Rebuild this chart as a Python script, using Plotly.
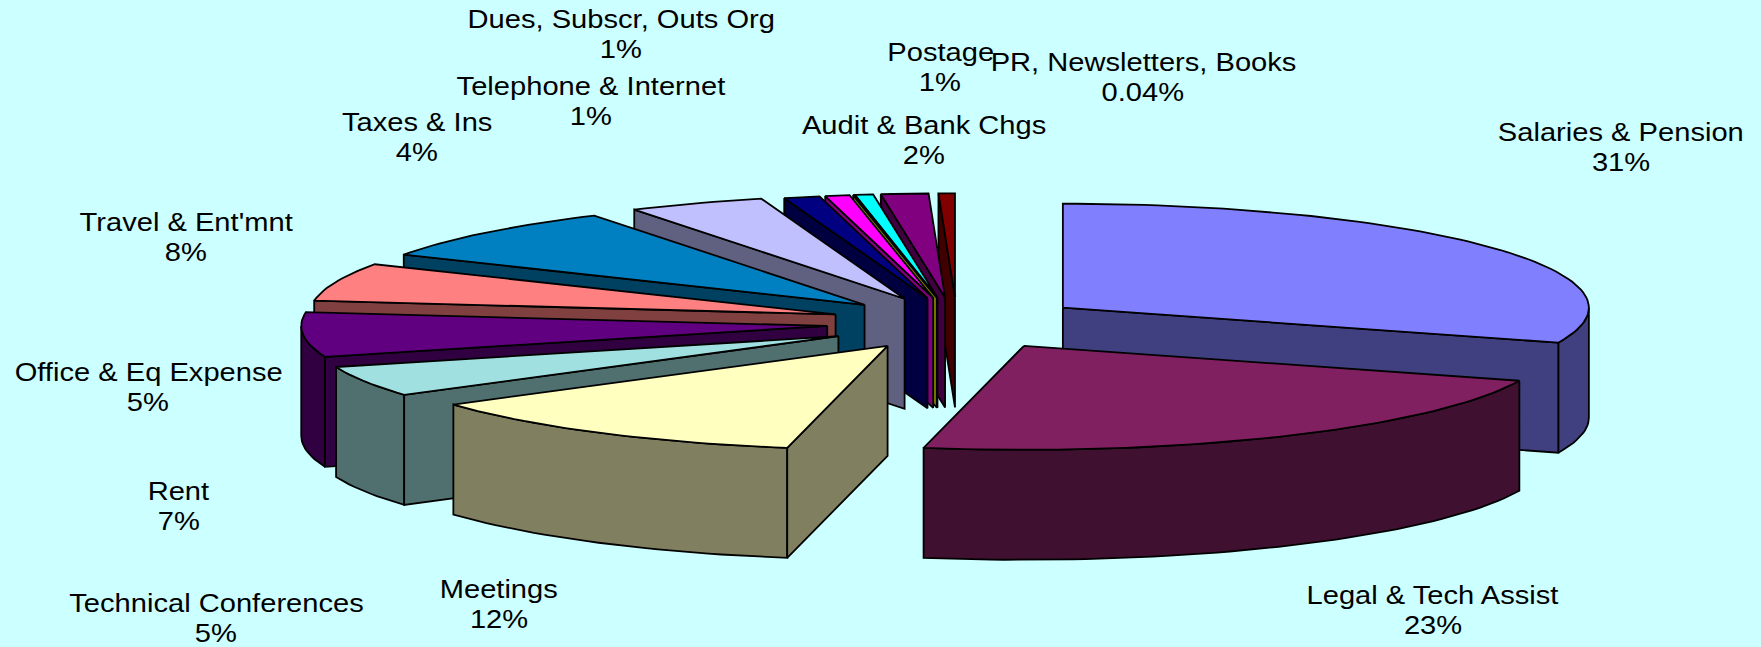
import math
import plotly.graph_objects as go

# ---- data ----
categories = ["Salaries & Pension", "Legal & Tech Assist", "Meetings", "Technical Conferences",
              "Rent", "Office & Eq Expense", "Travel & Ent'mnt", "Taxes & Ins",
              "Telephone & Internet", "Dues, Subscr, Outs Org", "PR, Newsletters, Books",
              "Postage", "Audit & Bank Chgs", "Other"]
values = [30.45, 22.6, 12.4, 4.75, 6.9, 5.9, 8.4, 4.2, 1.1, 0.75, 0.04, 0.55, 1.45, 0.5]
pct_labels = ["31%", "23%", "12%", "5%", "7%", "5%", "8%", "4%", "1%", "1%", "0.04%", "1%", "2%", ""]

# ---- style ----
top_colors = ["#8080FF", "#802060", "#FFFFC0", "#A0E0E0", "#600080", "#FF8080", "#0080C0",
              "#C0C0FF", "#000080", "#FF00FF", "#FFFF00", "#00FFFF", "#800080", "#800000"]
side_colors = ["#404080", "#401030", "#808060", "#507070", "#300040", "#804040", "#004060",
               "#606080", "#000040", "#800080", "#808000", "#008080", "#400040", "#400000"]
BG = "#CCFFFF"
W, H = 1761, 647
CX, CY, RX, RY, DEPTH = 960, 323.5, 526, 104, 110
PULL = 0.28
nudge_x = [-17.5, -9, 8.5, 11, 14, 15.5, 10.6, 3, 2.7, 0, 0, -2, -3.6, -2.7]
nudge_y = [1, -3, -2, 0, 0, 0, 1.5, 2, 3, 3, 3, 3, 3, 3]
label_x = [1621, 1433, 499, 216, 179, 148, 186, 417, 591, 621, 1143, 940, 924, None]
label_y = [147, 610, 604, 618, 506, 387, 237, 137, 101, 34, 77, 67, 140, None]
LINE_GAP = 30
TEXT_STRETCH = 1.12
FONT = dict(family="Liberation Sans, Arial, sans-serif", size=26, color="black")

total = sum(values)
edges = [0.0]
for v in values:
    edges.append(edges[-1] + v / total * 360.0)

fig = go.Figure()


def add_poly(xs, ys, color, name):
    fig.add_trace(go.Scatter(
        x=xs + xs[:1], y=ys + ys[:1], mode="lines", fill="toself", fillcolor=color,
        line=dict(color="black", width=1.8), name=name, hoverinfo="name", showlegend=False))


def rim(ax, ay, t0, t1, dy=0.0):
    n = max(2, int(abs(t1 - t0) / 1.5) + 2)
    ts = [t0 + (t1 - t0) * i / (n - 1) for i in range(n)]
    return ([ax + RX * math.sin(math.radians(t)) for t in ts],
            [ay - RY * math.cos(math.radians(t)) + dy for t in ts])


order = sorted(range(len(values)),
               key=lambda i: -math.cos(math.radians((edges[i] + edges[i + 1]) / 2)))
for i in order:
    t0, t1 = edges[i], edges[i + 1]
    mid = math.radians((t0 + t1) / 2)
    ax = CX + RX * PULL * math.sin(mid) + nudge_x[i]
    ay = CY - RY * PULL * math.cos(mid) + nudge_y[i]
    name = categories[i]
    # outer wall (only the part of the rim that faces the viewer)
    a, b = max(t0, 90), min(t1, 270)
    if a < b:
        xs, ys = rim(ax, ay, a, b)
        xb, yb = rim(ax, ay, a, b, DEPTH)
        add_poly(xs + xb[::-1], ys + yb[::-1], side_colors[i], name)
    # radial walls
    if math.sin(math.radians(t1)) > 0:
        xr, yr = rim(ax, ay, t1, t1)
        add_poly([ax, xr[0], xr[0], ax], [ay, yr[0], yr[0] + DEPTH, ay + DEPTH], side_colors[i], name)
    if math.sin(math.radians(t0)) < 0:
        xr, yr = rim(ax, ay, t0, t0)
        add_poly([ax, xr[0], xr[0], ax], [ay, yr[0], yr[0] + DEPTH, ay + DEPTH], side_colors[i], name)
    # top face
    xs, ys = rim(ax, ay, t0, t1)
    add_poly([ax] + xs, [ay] + ys, top_colors[i], name)

for cat, pct, lx, ly in zip(categories, pct_labels, label_x, label_y):
    if lx is None:
        continue
    for line, yy in ((cat, ly - LINE_GAP / 2), (pct, ly + LINE_GAP / 2)):
        fig.add_annotation(x=lx, y=yy, text=line, showarrow=False, align="center",
                           font=FONT, xanchor="center", yanchor="middle")

fig.update_layout(
    width=W, height=H, margin=dict(l=0, r=0, t=0, b=0),
    paper_bgcolor=BG, plot_bgcolor=BG, showlegend=False,
    xaxis=dict(range=[0, W], visible=False, fixedrange=True),
    yaxis=dict(range=[H, 0], visible=False, fixedrange=True),
)
stretch_js = """
document.body.style.margin='0';document.body.style.overflow='hidden';
document.querySelectorAll('.annotation-text').forEach(function(t){
  var b=t.getBBox(), c=b.x+b.width/2;
  t.setAttribute('transform','translate('+c+',0) scale(%s,1) translate('+(-c)+',0)');
});
""" % TEXT_STRETCH
fig.write_html("out.html", config={"displayModeBar": False}, post_script=stretch_js)
